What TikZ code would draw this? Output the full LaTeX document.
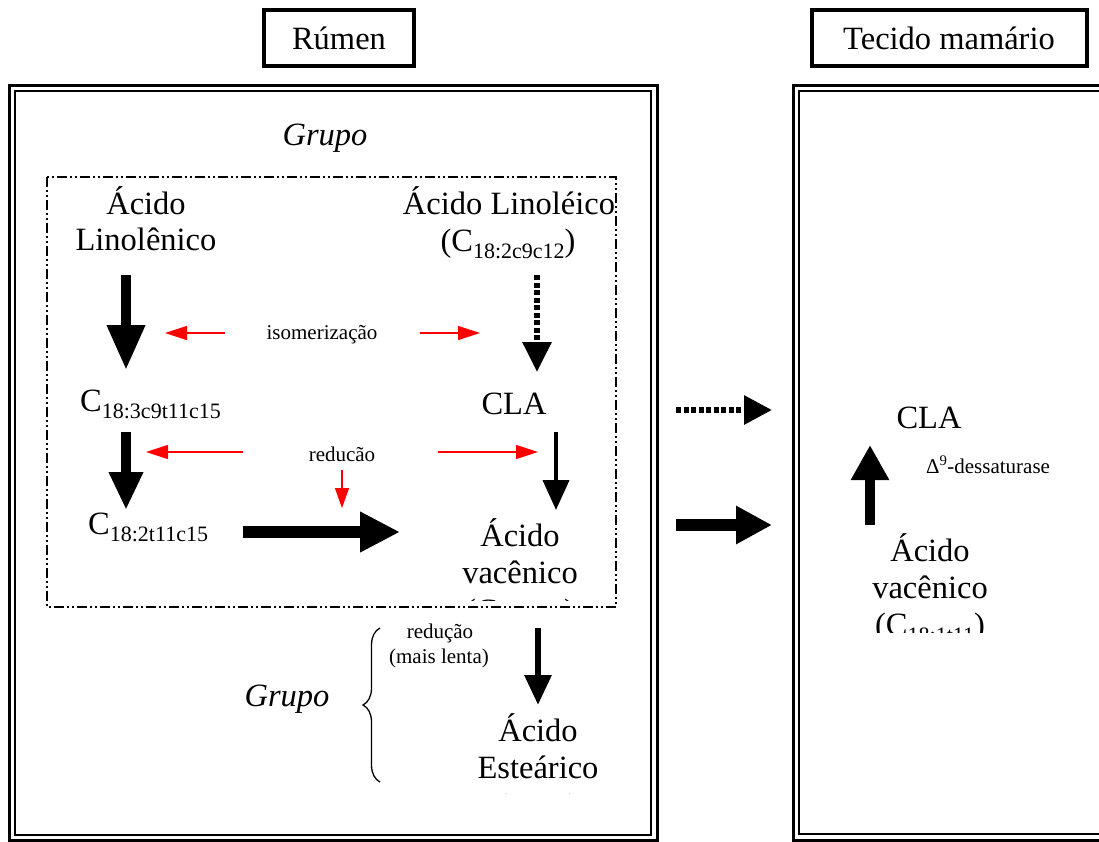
\documentclass[tikz,border=0pt]{standalone}
\usepackage{fontspec}
\setmainfont{Liberation Serif}
\usetikzlibrary{arrows.meta,decorations.pathreplacing}
\newcommand{\mysubs}[1]{\raisebox{-7pt}{\fontsize{22}{22}\selectfont #1}}
\begin{document}
\begin{tikzpicture}[x=1pt,y=-1pt,
  big/.style={font=\fontsize{32.5}{37}\selectfont, inner sep=0pt, anchor=base},
  bigw/.style={font=\fontsize{32.5}{37}\selectfont, inner sep=0pt, anchor=base west},
  grp/.style={font=\fontsize{32.5}{37}\selectfont\itshape, inner sep=0pt, anchor=base},
  small/.style={font=\fontsize{21}{25}\selectfont, inner sep=0pt, anchor=base},
  titlebox/.style={draw, line width=4pt, font=\fontsize{32.5}{37}\selectfont, inner sep=0pt, minimum height=56pt},
  dashdot/.style={line width=1.4pt, dash pattern=on 10pt off 3pt on 2pt off 3pt on 2pt off 3pt},
  redarr/.style={red, line width=1.2pt, -{Triangle[length=22pt,width=14pt]}},
  dotshaft/.style={dash pattern=on 5pt off 2.5pt}
]
\useasboundingbox (0,0) rectangle (1099,841);
\begin{scope}
\clip (0,0) rectangle (1099,841);
% title boxes
\node[titlebox, minimum width=150pt] (rumen) at (339,38) {Rúmen};
\node[titlebox, minimum width=275pt] (tecido) at (949,38) {Tecido mamário};
% double frames
\draw[line width=3pt] (9,85) rectangle (657,840);
\draw[line width=2pt] (15,91) rectangle (651,835);
\draw[line width=3pt] (793,85) rectangle (1110,840);
\draw[line width=2pt] (799,91) rectangle (1110,834);
% dash-dot group box
\draw[dashdot] (47,177) rectangle (616,607);
% texts in rumen
\node[grp] (grupo1) at (325,145) {Grupo};
\node[big] (acido1) at (146,214) {Ácido};
\node[big] (linolenico) at (146,250) {Linolênico};
\node[big] (acido2) at (509,214) {Ácido Linoléico};
\node[big] (c182c) at (508,251) {(C\mysubs{18:2c9c12})};
\node[small] (isom) at (322,339) {isomerização};
\node[bigw] (c183) at (80,411) {C\mysubs{18:3c9t11c15}};
\node[big] (cla1) at (514,414) {CLA};
\node[small] (red1) at (342,461) {reducão};
\node[bigw] (c182t) at (88,534) {C\mysubs{18:2t11c15}};
\begin{scope}
\clip (380,480) rectangle (640,600);
\node[big] (acido3) at (520,546) {Ácido};
\node[big] (vac1) at (520,583) {vacênico};
\node[big] (vacf1) at (520,621) {(C\mysubs{18:1t11})};
\end{scope}
\node[small] (red2) at (440,638) {redução};
\node[small] (lenta) at (439,663) {(mais lenta)};
\node[grp] (grupo2) at (287,706) {Grupo};
\begin{scope}
\clip (380,700) rectangle (640,793);
\node[big] (acido4) at (538,741) {Ácido};
\node[big] (este) at (538,778) {Esteárico};
\node[big] (estef) at (538,816) {(C\mysubs{18:0})};
\end{scope}
% brace
\coordinate (brb) at (380,782);
\coordinate (brt) at (380,628);
\draw[line width=1.3pt, decorate, decoration={brace, amplitude=17pt}] (brb) -- (brt);
% right panel texts
\node[big] (cla2) at (929,428) {CLA};
\node[small] (desat) at (988,473) {Δ\textsuperscript{9}-dessaturase};
\begin{scope}
\clip (800,500) rectangle (1099,632);
\node[big] (acido5) at (930,561) {Ácido};
\node[big] (vac2) at (930,598) {vacênico};
\node[big] (vacf2) at (930,635) {(C\mysubs{18:1t11})};
\end{scope}
% arrow coordinates
\coordinate (a1s) at (126,275); \coordinate (a1e) at (126,370);
\coordinate (a2s) at (126,432); \coordinate (a2e) at (126,510);
\coordinate (d1s) at (537,275); \coordinate (d1e) at (537,372);
\coordinate (a3s) at (556,432); \coordinate (a3e) at (556,510);
\coordinate (h1s) at (243,532); \coordinate (h1e) at (400,532);
\coordinate (a4s) at (538,628); \coordinate (a4e) at (538,705);
\coordinate (m1s) at (676,410); \coordinate (m1e) at (772,410);
\coordinate (m2s) at (676,525); \coordinate (m2e) at (772,525);
\coordinate (u1s) at (870,525); \coordinate (u1e) at (870,445);
\coordinate (r1s) at (225,333); \coordinate (r1e) at (165,333);
\coordinate (r2s) at (420,333); \coordinate (r2e) at (480,333);
\coordinate (r3s) at (243,452); \coordinate (r3e) at (146,452);
\coordinate (r4s) at (438,452); \coordinate (r4e) at (538,452);
\coordinate (r5s) at (342,470); \coordinate (r5e) at (342,508);
% black arrows
\draw[line width=10pt, -{Triangle[length=45pt,width=36pt]}] (a1s) -- (a1e);
\draw[line width=10pt, -{Triangle[length=38pt,width=32pt]}] (a2s) -- (a2e);
\draw[line width=6pt, dotshaft, -{Triangle[length=30pt,width=28pt]}] (d1s) -- (d1e);
\draw[line width=4pt, -{Triangle[length=30pt,width=26pt]}] (a3s) -- (a3e);
\draw[line width=12pt, -{Triangle[length=40pt,width=38pt]}] (h1s) -- (h1e);
\draw[line width=6pt, -{Triangle[length=30pt,width=26pt]}] (a4s) -- (a4e);
\draw[line width=6pt, dotshaft, -{Triangle[length=28pt,width=28pt]}] (m1s) -- (m1e);
\draw[line width=12pt, -{Triangle[length=36pt,width=36pt]}] (m2s) -- (m2e);
\draw[line width=10pt, -{Triangle[length=35pt,width=36pt]}] (u1s) -- (u1e);
% red arrows
\draw[redarr] (r1s) -- (r1e);
\draw[redarr] (r2s) -- (r2e);
\draw[redarr] (r3s) -- (r3e);
\draw[redarr] (r4s) -- (r4e);
\draw[red, line width=1.2pt, -{Triangle[length=20pt,width=14pt]}] (r5s) -- (r5e);
\end{scope}
\end{tikzpicture}
\end{document}
